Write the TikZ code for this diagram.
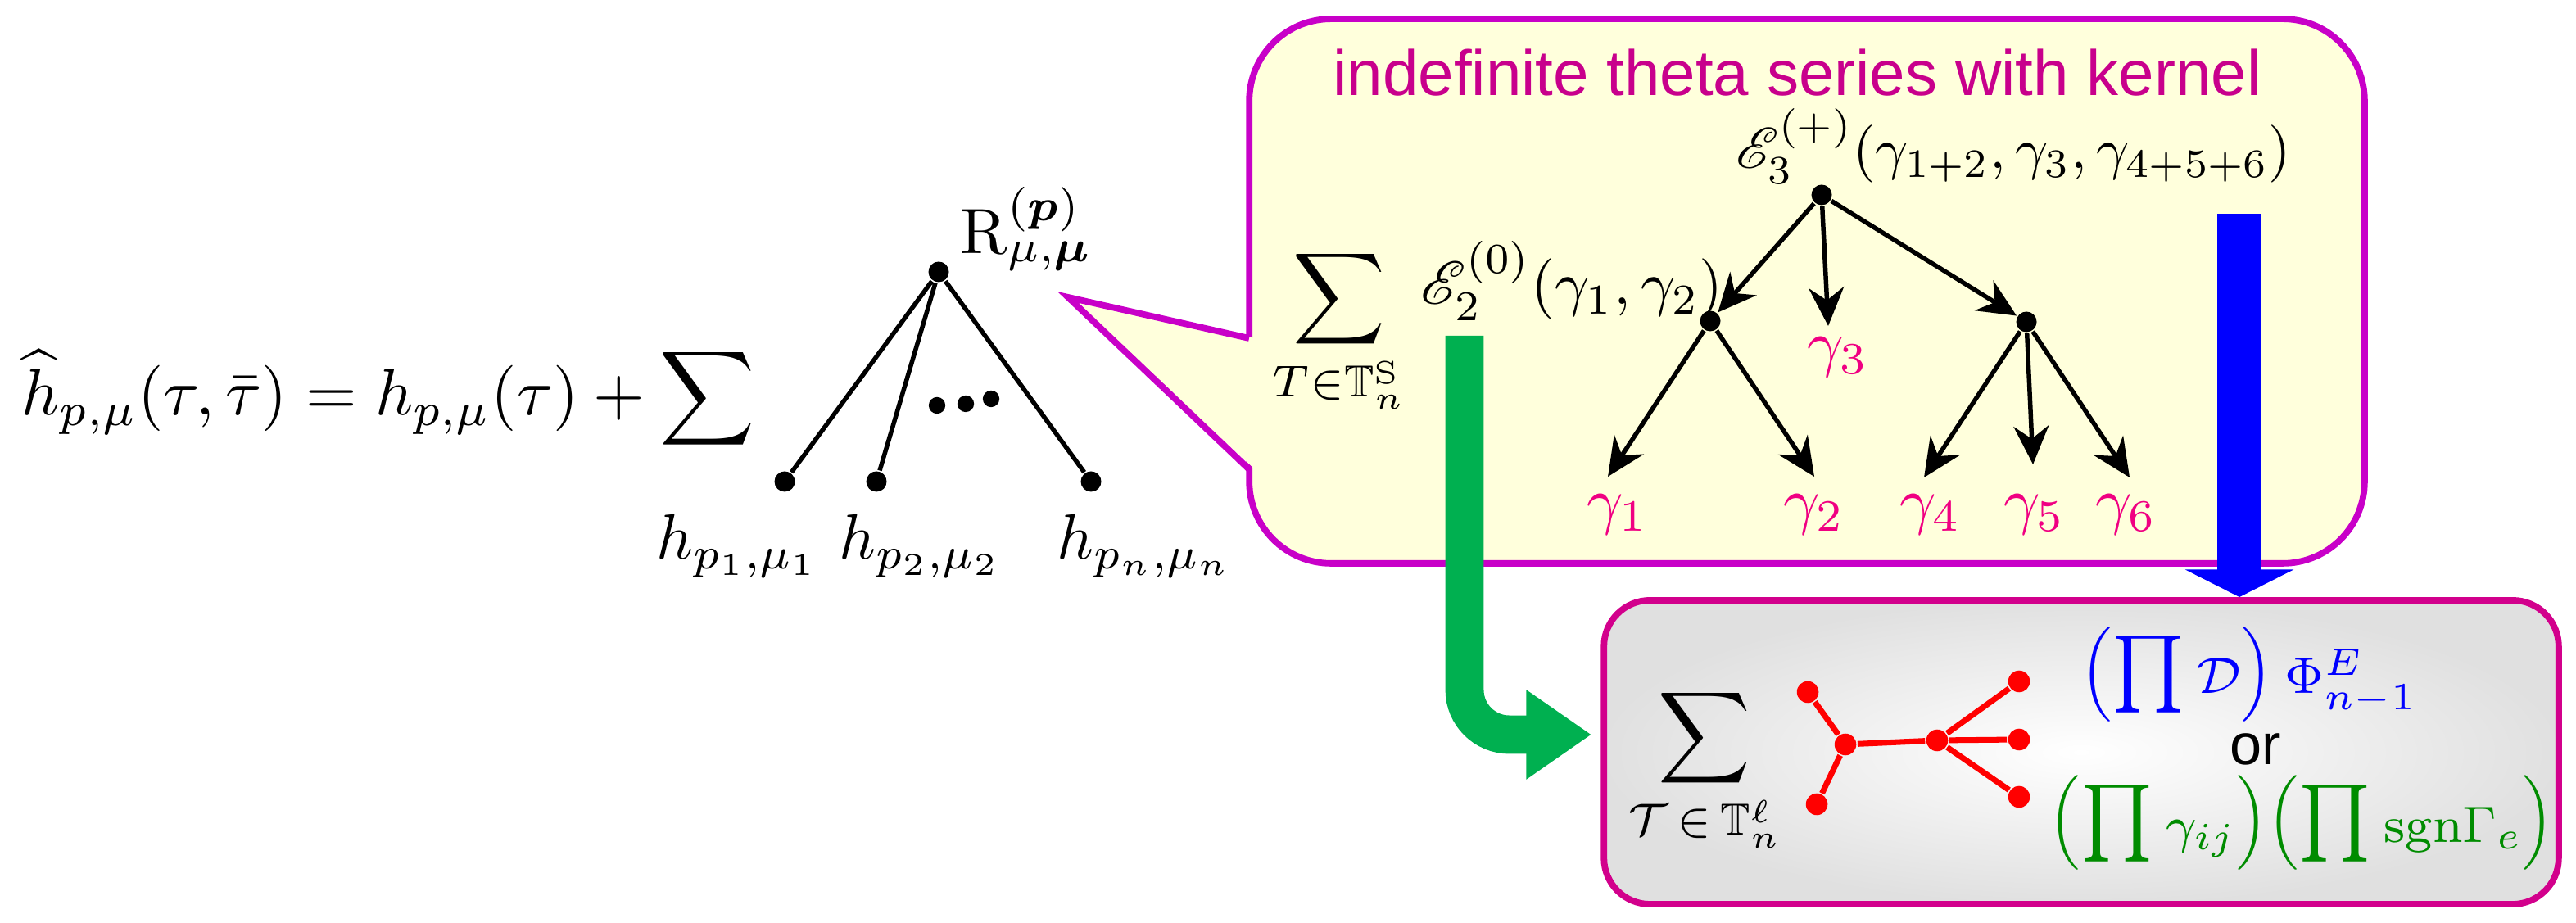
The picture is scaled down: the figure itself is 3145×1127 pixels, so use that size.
\documentclass[tikz,border=0pt]{standalone}
\usepackage{amsmath,amssymb}
\usepackage{mathrsfs}
\usepackage{fontspec}
\newfontfamily\titlefont{Liberation Sans}
\usetikzlibrary{arrows.meta,positioning}
\definecolor{calloutbd}{RGB}{200,0,200}
\definecolor{calloutbg}{RGB}{255,255,220}
\definecolor{titlecol}{RGB}{200,0,140}
\definecolor{gammacol}{RGB}{240,0,130}
\definecolor{graybd}{RGB}{210,0,140}
\definecolor{arrgreen}{RGB}{0,176,80}
\definecolor{prodgreen}{RGB}{0,140,0}
\newcommand{\lpar}{\mathopen{\vcenter{\hbox{\normalsize\scalebox{0.82}{$\Bigl($}}}}}
\newcommand{\rpar}{\mathclose{\vcenter{\hbox{\normalsize\scalebox{0.82}{$\Bigr)$}}}}}
\tikzset{
  dot/.style={circle, fill=black, inner sep=0pt, minimum size=3.2pt},
  reddot/.style={circle, fill=red, inner sep=0pt, minimum size=3.4pt},
  arr/.style={-{Stealth[length=6pt,width=5.5pt,inset=2pt]}, line width=0.7pt},
  glab/.style={text=gammacol},
  mathlab/.style={inner sep=0pt},
}
\begin{document}
\begin{tikzpicture}[x=0.128pt, y=-0.128pt]
\useasboundingbox (0,0) rectangle (3145,1127);
%
% left side
\node[mathlab, anchor=base west, scale=1.03] (hhat) at (25,507)
  {$\widehat{h}_{p,\mu}(\tau,\bar\tau)=h_{p,\mu}(\tau)+\displaystyle\sum$};
\node[dot] (root) at (1146,332) {};
\node[dot] (l1) at (958,588) {};
\node[dot] (l2) at (1070,588) {};
\node[dot] (ln) at (1332,588) {};
\draw[line width=0.7pt] (root) -- (l1) (root) -- (l2) (root) -- (ln);
\foreach \x/\y in {1144/495, 1179/493, 1210/487}
  \fill (\x,\y) circle[radius=1.3pt];
\node[mathlab, anchor=base west] (rlab) at (1171,310)
  {$\mathrm{R}^{(\boldsymbol{p})}_{\mu,\boldsymbol{\mu}}$};
\node[mathlab, anchor=base] (h1) at (901,683) {$h_{p_1,\mu_1}$};
\node[mathlab, anchor=base] (h2) at (1124,683) {$h_{p_2,\mu_2}$};
\node[mathlab, anchor=base] (hn) at (1398,683) {$h_{p_n,\mu_n}$};
%
% callout
\node[draw=calloutbd, fill=calloutbg, line width=1pt, rounded corners=12.8pt,
      minimum width=174.3pt, minimum height=85.1pt, inner sep=0pt] (theta) at (2206,355.5) {};
\coordinate (tip) at (1304,363);
\fill[calloutbg] (tip) -- (1532,413) -- (1532,573) -- cycle;
\draw[calloutbd, line width=1pt, line join=miter] (1525,413) -- (tip) -- (1525,573);
\node[text=titlecol, font=\titlefont, anchor=base] (ttl) at (2194,117)
  {indefinite theta series with kernel};
\node[mathlab, anchor=base] (sumS) at (1635,385) {$\displaystyle\sum_{T\in\mathbb{T}_n^{\mathrm{S}}}$};
\node[mathlab, anchor=base west, scale=0.95] (etwo) at (1733,372) {$\mathscr{E}_2^{(0)}(\gamma_1,\gamma_2)$};
\node[mathlab, anchor=base west, scale=0.9] (ethree) at (2118,206)
  {$\mathscr{E}_3^{(+)}(\gamma_{1+2},\gamma_3,\gamma_{4+5+6})$};
%
\node[dot] (e3) at (2224,238) {};
\node[dot] (e2) at (2088,392) {};
\node[dot] (e33) at (2474,393) {};
\coordinate (t1) at (1963,582);
\coordinate (t2) at (2215,582);
\coordinate (t3) at (2232,398);
\coordinate (t4) at (2349,583);
\coordinate (t5) at (2482,567);
\coordinate (t6) at (2600,583);
\node[glab] (g1) at (1975,628) {$\gamma_1$};
\node[glab] (g2) at (2215,628) {$\gamma_2$};
\node[glab] (g3) at (2244,436) {$\gamma_3$};
\node[glab] (g4) at (2357,628) {$\gamma_4$};
\node[glab] (g5) at (2484,628) {$\gamma_5$};
\node[glab] (g6) at (2596,628) {$\gamma_6$};
\draw[arr] (e3) -- (e2);
\draw[arr] (e3) -- (t3);
\draw[arr] (e3) -- (e33);
\draw[arr] (e2) -- (t1);
\draw[arr] (e2) -- (t2);
\draw[arr] (e33) -- (t4);
\draw[arr] (e33) -- (t5);
\draw[arr] (e33) -- (t6);
%
% lower box
\node[draw=graybd, line width=1pt, rounded corners=7.2pt, inner color=white, outer color=black!12,
      minimum width=149.2pt, minimum height=47.5pt, inner sep=0pt] (lattice) at (2541,918.5) {};
\node[mathlab, anchor=base] (sumL) at (2081,921) {$\displaystyle\sum_{\mathcal{T}\,\in\,\mathbb{T}_n^{\ell}}$};
\node[reddot] (a1) at (2207,845) {};
\node[reddot] (a2) at (2218,982) {};
\node[reddot] (b1) at (2253,909) {};
\node[reddot] (b2) at (2365,904) {};
\node[reddot] (c1) at (2465,832) {};
\node[reddot] (c2) at (2465,903) {};
\node[reddot] (c3) at (2465,973) {};
\draw[red, line width=0.9pt] (a1) -- (b1) -- (a2) (b1) -- (b2)
  (b2) -- (c1) (b2) -- (c2) (b2) -- (c3);
\node[mathlab, text=blue, font=\large] (phi) at (2746,823.5)
  {$\lpar\prod{\scriptstyle\mathcal{D}}\rpar\,{\scriptstyle\Phi^{E}_{n-1}}$};
\node[mathlab, font=\titlefont\small] (or) at (2754,915) {or};
\node[mathlab, text=prodgreen, font=\large] (gam) at (2810,1005)
  {$\lpar\prod{\scriptstyle\gamma_{ij}}\rpar\lpar\prod{\scriptstyle\mathrm{sgn}\Gamma_e}\rpar$};
%
% thick arrows
\coordinate (gs) at (1788,410);
\coordinate (ge) at (1943,897);
\draw[arrgreen, line width=6pt, rounded corners=7pt, -{Triangle[length=10.2pt,width=13.3pt]}] (gs) |- (ge);
\coordinate (bs) at (2734,261);
\draw[blue, line width=7pt, -{Triangle[length=4.3pt,width=16.8pt]}] (bs) -- (lattice.north -| bs);
\end{tikzpicture}
\end{document}
